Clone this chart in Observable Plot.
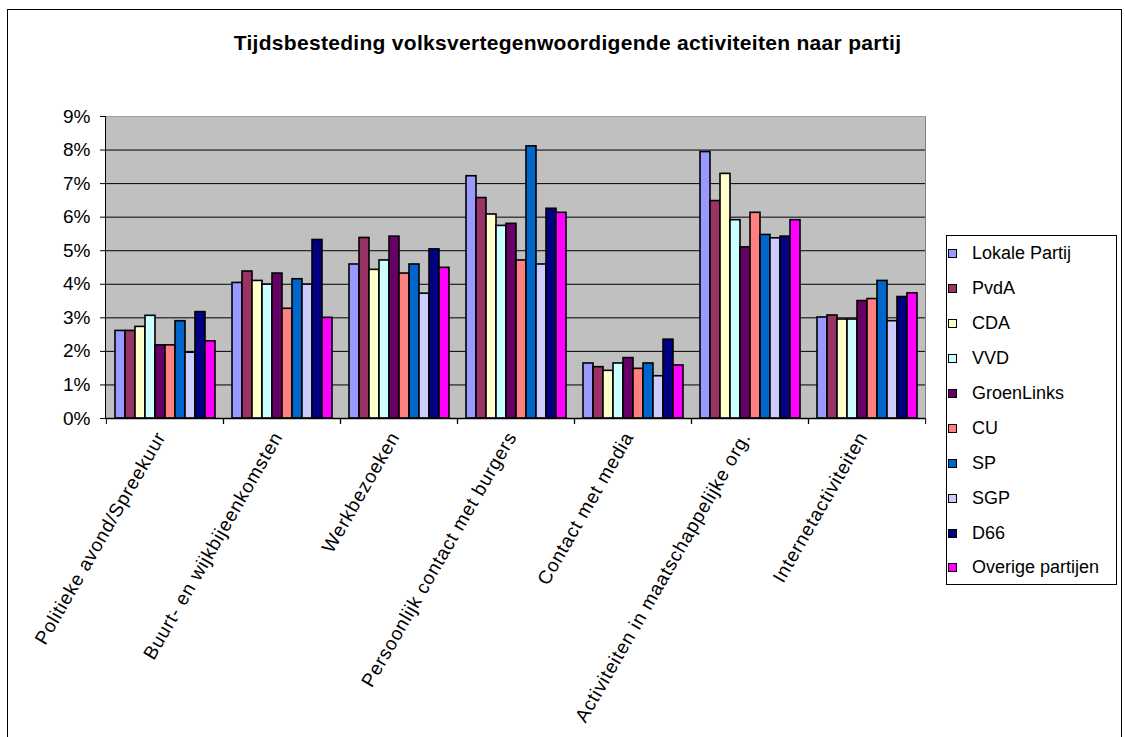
<!DOCTYPE html>
<html>
<head>
<meta charset="utf-8">
<script src="https://cdn.jsdelivr.net/npm/d3@7"></script>
<script src="https://cdn.jsdelivr.net/npm/@observablehq/plot@0.6"></script>
<style>
  body { margin: 0; background: #fff; font-family: Arial, "Liberation Sans", sans-serif; }
  #wrap { position: relative; width: 1125px; height: 737px; overflow: hidden; }
  #border { position: absolute; left: 7px; top: 9px; width: 1115px; height: 780px; border: 1.5px solid #000; box-sizing: border-box; }
  #bg { position: absolute; left: 105px; top: 116px; width: 821px; height: 302px; background: #c0c0c0;
        border-top: 1px solid #a0a0a0; border-right: 1px solid #808080; border-left: 1px solid #000; box-sizing: border-box; }
  #chart { position: absolute; left: 0; top: 0; }
  #title { position: absolute; left: 0; top: 31px; width: 1135px; text-align: center; font-weight: bold;
           font-size: 21px; letter-spacing: 0.3px; color: #000; white-space: nowrap; }
  #legend { position: absolute; left: 946px; top: 235px; width: 171px; height: 350px; border: 1px solid #000;
            box-sizing: border-box; background: #fff; padding-top: 0.5px; }
  .item { height: 34.9px; display: flex; align-items: center; font-size: 18px; color: #000; white-space: nowrap; }
  .sw { width: 7px; height: 7px; border: 1px solid #000; margin-left: 1px; margin-right: 15px; flex: none; }
  g[aria-label="fx-axis tick label"] text { letter-spacing: 0.8px; }
</style>
</head>
<body>
<div id="wrap">
  <div id="border"></div>
  <div id="bg"></div>
  <div id="chart"></div>
  <div id="title">Tijdsbesteding volksvertegenwoordigende activiteiten naar partij</div>
  <div id="legend"></div>
</div>
<script>
const categories = [
  "Politieke avond/Spreekuur",
  "Buurt- en wijkbijeenkomsten",
  "Werkbezoeken",
  "Persoonlijk contact met burgers",
  "Contact met media",
  "Activiteiten in maatschappelijke org.",
  "Internetactiviteiten"
];
const parties = ["Lokale Partij", "PvdA", "CDA", "VVD", "GroenLinks", "CU", "SP", "SGP", "D66", "Overige partijen"];
const colors = ["#9999FF", "#993366", "#FFFFCC", "#CCFFFF", "#660066", "#FF8080", "#0066CC", "#CCCCFF", "#000080", "#FF00FF"];

// percentages per party, in category order
const lokalePartij = [2.61, 4.04, 4.59, 7.22, 1.64, 7.94, 3.01];
const pvda         = [2.61, 4.38, 5.38, 6.57, 1.53, 6.48, 3.07];
const cda          = [2.73, 4.10, 4.43, 6.08, 1.42, 7.29, 2.95];
const vvd          = [3.06, 3.99, 4.71, 5.74, 1.64, 5.91, 2.95];
const groenLinks   = [2.18, 4.32, 5.42, 5.80, 1.80, 5.10, 3.50];
const cu           = [2.18, 3.27, 4.32, 4.71, 1.48, 6.13, 3.56];
const sp           = [2.90, 4.15, 4.59, 8.11, 1.64, 5.47, 4.10];
const sgp          = [1.96, 3.99, 3.72, 4.59, 1.26, 5.37, 2.90];
const d66          = [3.17, 5.32, 5.04, 6.25, 2.35, 5.42, 3.62];
const overige      = [2.30, 3.00, 4.49, 6.13, 1.58, 5.91, 3.73];

const yTicks = [0, 0.01, 0.02, 0.03, 0.04, 0.05, 0.06, 0.07, 0.08, 0.09];

const series = [lokalePartij, pvda, cda, vvd, groenLinks, cu, sp, sgp, d66, overige];
const rows = [];
parties.forEach((p, i) => categories.forEach((c, j) => rows.push({party: p, category: c, value: series[i][j] / 100})));

const W = 1125, H = 737, mL = 105, mR = 199, mT = 116, mB = 319;
const step = (W - mL - mR) / categories.length;

const chart = Plot.plot({
  width: W, height: H,
  marginLeft: mL, marginRight: mR, marginTop: mT, marginBottom: mB,
  style: {background: "transparent", fontFamily: "Arial, 'Liberation Sans', sans-serif", color: "#000", overflow: "visible"},
  facet: {data: rows, x: "category"},
  fx: {domain: categories, padding: 0, label: null},
  x: {domain: parties, paddingInner: 0, paddingOuter: 0.71, axis: null},
  y: {domain: [0, 0.09], label: null},
  color: {domain: parties, range: colors},
  marks: [
    Plot.ruleY(yTicks.slice(1, -1), {stroke: "#000", strokeWidth: 1}),
    Plot.barY(rows, {x: "party", y: "value", fill: "party", stroke: "#000", strokeWidth: 1.6}),
    Plot.ruleY([0], {stroke: "#000", strokeWidth: 1.5}),
    Plot.axisY(yTicks, {tickSize: 6, tickPadding: 10, fontSize: 19, tickFormat: d3.format(".0%"), label: null}),
    Plot.axisFx({anchor: "bottom", tickSize: 0, tickPadding: 15, dx: -4, tickRotate: -60, fontSize: 19, label: null}),
    Plot.axisFx({anchor: "bottom", tickSize: 6, tickFormat: () => "", dx: -step / 2, label: null}),
    Plot.axisFx({anchor: "bottom", tickSize: 6, tickFormat: () => "", dx: step / 2, label: null})
  ]
});
document.getElementById("chart").appendChild(chart);

const legend = document.getElementById("legend");
parties.forEach((p, i) => {
  const item = document.createElement("div");
  item.className = "item";
  const sw = document.createElement("span");
  sw.className = "sw";
  sw.style.background = colors[i];
  const t = document.createElement("span");
  t.textContent = p;
  item.appendChild(sw);
  item.appendChild(t);
  legend.appendChild(item);
});
</script>
</body>
</html>
